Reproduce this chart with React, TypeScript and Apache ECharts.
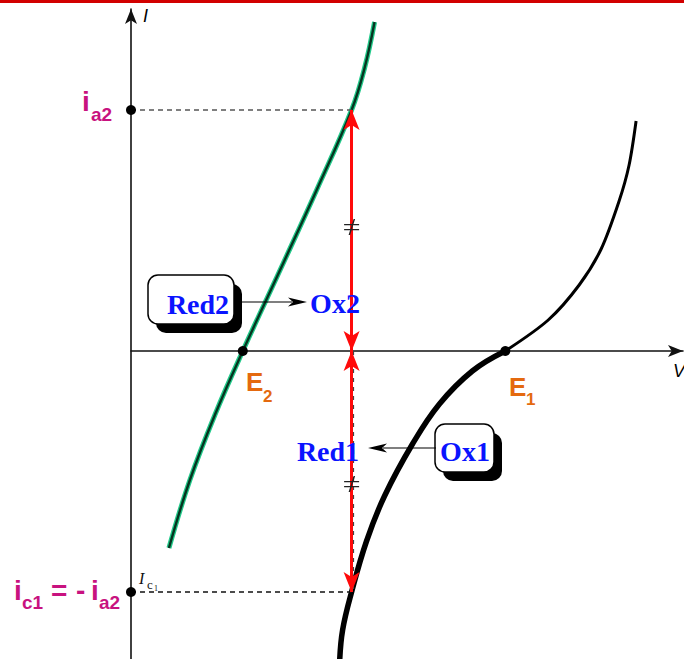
import React, { useEffect, useRef } from "react";
import * as echarts from "echarts";

// Axis ranges (potential E, current I, arbitrary units)
const potentialRange = [0, 55.3];
const currentRange = [-30.8, 34.2];

// Characteristic values
const E2 = 11.2;
const E1 = 37.5;
const Ecorr = 22.1;
const ia2 = 24.1;
const ic1 = -ia2;

// Red2 / Ox2 couple, I(E)
const couple2Curve: [number, number][] = [
  [3.8, -19.7],
  [5.9, -12.9],
  [8.4, -6.4],
  [11.2, 0],
  [15.4, 9.1],
  [18.6, 16.1],
  [22.1, 24.1],
  [23.4, 28.3],
  [24.4, 32.9],
];

// Red1 / Ox1 couple, cathodic branch (below E1)
const couple1Cathodic: [number, number][] = [
  [20.9, -31.1],
  [21.2, -27.9],
  [22.1, -24.1],
  [23.6, -19.0],
  [25.4, -14.5],
  [28.2, -9.3],
  [30.9, -5.3],
  [34.2, -2.0],
  [37.5, 0],
];

// Red1 / Ox1 couple, anodic branch (above E1)
const couple1Anodic: [number, number][] = [
  [37.5, 0],
  [41.8, 3.1],
  [44.9, 6.6],
  [47.1, 10.2],
  [48.9, 15.0],
  [49.9, 18.6],
  [50.6, 23.0],
];

// Positions of the "equal length" marks on the current arrows
const equalMarks = [12.4, -13.3];

const MAGENTA = "#c8127f";
const ORANGE = "#e4690f";
const BLUE = "#0a14ff";

type Txt = {
  x: number;
  y: number;
  text: string;
  font: string;
  fill: string;
  align?: string;
};

function txt(t: Txt) {
  return {
    type: "text",
    x: t.x,
    y: t.y,
    z: 100,
    style: {
      text: t.text,
      font: t.font,
      fill: t.fill,
      align: t.align || "left",
      verticalAlign: "middle",
      textAlign: t.align || "left",
      textVerticalAlign: "middle",
    },
  };
}

function shadowBox(x: number, y: number, w: number, h: number) {
  return [
    {
      type: "rect",
      z: 99,
      shape: { x: x + 8, y: y + 9, width: w, height: h, r: 10 },
      style: { fill: "#000" },
    },
    {
      type: "rect",
      z: 100,
      shape: { x, y, width: w, height: h, r: 10 },
      style: { fill: "#fff", stroke: "#000", lineWidth: 1.5 },
    },
  ];
}

function arrow(x1: number, x2: number, y: number) {
  const dir = x2 > x1 ? 1 : -1;
  const base = x2 - dir * 19;
  return [
    {
      type: "line",
      z: 100,
      shape: { x1, y1: y, x2: base + dir * 4, y2: y },
      style: { stroke: "#000", lineWidth: 1.2 },
    },
    {
      type: "polygon",
      z: 100,
      shape: {
        points: [
          [x2, y],
          [base, y - 4.5],
          [base + dir * 5, y],
          [base, y + 4.5],
        ],
      },
      style: { fill: "#000" },
    },
  ];
}

const bold = (size: number) => `bold ${size}px "Liberation Sans", Arial, sans-serif`;
const serifBold = (size: number) => `bold ${size}px "Liberation Serif", "Times New Roman", serif`;

export default function App() {
  const ref = useRef<HTMLDivElement>(null);

  useEffect(() => {
    if (!ref.current) return;
    const chart = echarts.init(ref.current, undefined, { renderer: "svg" });

    const hidden = { show: false };
    const axisLine = {
      show: true,
      onZero: true,
      symbol: ["none", "arrow"],
      symbolSize: [9, 15],
      lineStyle: { color: "#111", width: 1.6 },
    };

    const option: any = {
      animation: false,
      grid: { left: 131, right: 1, top: 9, bottom: 0, containLabel: false },
      xAxis: {
        type: "value",
        min: potentialRange[0],
        max: potentialRange[1],
        axisLine,
        axisTick: hidden,
        axisLabel: hidden,
        splitLine: hidden,
      },
      yAxis: {
        type: "value",
        min: currentRange[0],
        max: currentRange[1],
        axisLine,
        axisTick: hidden,
        axisLabel: hidden,
        splitLine: hidden,
      },
      series: [
        {
          type: "line",
          data: couple2Curve,
          smooth: 0.4,
          showSymbol: false,
          lineStyle: { color: "#22c98a", width: 5 },
          z: 3,
        },
        {
          type: "line",
          data: couple2Curve,
          smooth: 0.4,
          showSymbol: false,
          lineStyle: { color: "#063520", width: 2.4 },
          z: 4,
        },
        {
          type: "line",
          data: couple1Cathodic,
          smooth: 0.4,
          showSymbol: false,
          lineStyle: { color: "#000", width: 5.5 },
          z: 3,
        },
        {
          type: "line",
          data: couple1Anodic,
          smooth: 0.3,
          showSymbol: false,
          lineStyle: { color: "#000", width: 3 },
          z: 3,
        },
        // dashed guides
        {
          type: "line",
          data: [],
          z: 2,
          markLine: {
            silent: true,
            symbol: ["none", "none"],
            label: { show: false },
            data: [
              [
                { coord: [0, ia2], lineStyle: { color: "#555", width: 1.5, type: [5, 4] } },
                { coord: [Ecorr, ia2] },
              ],
              [
                { coord: [0, ic1], lineStyle: { color: "#111", width: 1.5, type: [5, 4] } },
                { coord: [Ecorr, ic1] },
              ],
              [
                { coord: [Ecorr + 0.2, 0], lineStyle: { color: "#444", width: 1.2, type: [4, 5] } },
                { coord: [Ecorr + 0.2, ic1] },
              ],
            ],
          },
        },
        // current arrows
        {
          type: "line",
          data: [],
          z: 5,
          markLine: {
            silent: true,
            symbol: ["arrow", "arrow"],
            symbolSize: [12, 20],
            label: { show: false },
            lineStyle: { color: "#ff0a0a", width: 3, type: "solid" },
            data: [
              [{ coord: [Ecorr, 0] }, { coord: [Ecorr, ia2] }],
              [{ coord: [Ecorr, 0] }, { coord: [Ecorr, ic1] }],
            ],
          },
        },
        // equal-length marks
        {
          type: "scatter",
          data: equalMarks.map((v) => [Ecorr, v]),
          symbol: "path://M0,5h15v1.3h-15z M0,10h15v1.3h-15z M9.5,0h1.5l-5,16h-1.5z",
          symbolSize: [15, 16],
          itemStyle: { color: "#222", opacity: 1 },
          z: 6,
        },
        // characteristic points
        {
          type: "scatter",
          data: [
            [0, ia2],
            [0, ic1],
            [E2, 0],
            [E1, 0],
          ],
          symbol: "circle",
          symbolSize: 10,
          itemStyle: { color: "#000", opacity: 1 },
          z: 7,
        },
      ],
      graphic: [
        {
          type: "rect",
          z: 100,
          shape: { x: 0, y: 0, width: 684, height: 3 },
          style: { fill: "#d20000" },
        },
        // axis names
        txt({ x: 143, y: 16, text: "I", font: 'italic 18px "Liberation Sans", sans-serif', fill: "#000" }),
        txt({ x: 673, y: 371, text: "V", font: 'italic 18px "Liberation Sans", sans-serif', fill: "#000" }),
        // current labels
        txt({ x: 82, y: 101, text: "i", font: bold(28), fill: MAGENTA }),
        txt({ x: 91, y: 114, text: "a2", font: bold(19), fill: MAGENTA }),
        txt({ x: 14, y: 590, text: "i", font: bold(28), fill: MAGENTA }),
        txt({ x: 22, y: 602, text: "c1", font: bold(19), fill: MAGENTA }),
        txt({ x: 51, y: 590, text: "=", font: bold(28), fill: MAGENTA }),
        txt({ x: 76, y: 590, text: "-", font: bold(28), fill: MAGENTA }),
        txt({ x: 91, y: 590, text: "i", font: bold(28), fill: MAGENTA }),
        txt({ x: 99, y: 602, text: "a2", font: bold(19), fill: MAGENTA }),
        txt({ x: 139, y: 578, text: "I", font: 'italic 16px "Liberation Serif", serif', fill: "#111" }),
        txt({ x: 147, y: 584, text: "c", font: '13px "Liberation Serif", serif', fill: "#111" }),
        txt({ x: 154, y: 588, text: "1", font: '8px "Liberation Serif", serif', fill: "#111" }),
        // potentials
        txt({ x: 246, y: 382, text: "E", font: bold(26), fill: ORANGE }),
        txt({ x: 263, y: 396, text: "2", font: bold(17), fill: ORANGE }),
        txt({ x: 509, y: 387, text: "E", font: bold(26), fill: ORANGE }),
        txt({ x: 526, y: 399, text: "1", font: bold(17), fill: ORANGE }),
        // Red2 -> Ox2
        ...shadowBox(148, 275, 86, 49),
        txt({ x: 198, y: 304, text: "Red2", font: serifBold(28), fill: BLUE, align: "center" }),
        ...arrow(236, 307, 302),
        txt({ x: 335, y: 303, text: "Ox2", font: serifBold(28), fill: BLUE, align: "center" }),
        // Ox1 -> Red1
        ...shadowBox(435, 424, 59, 48),
        txt({ x: 465, y: 451, text: "Ox1", font: serifBold(28), fill: BLUE, align: "center" }),
        ...arrow(436, 368, 448),
        txt({ x: 328, y: 451, text: "Red1", font: serifBold(28), fill: BLUE, align: "center" }),
      ],
    };

    chart.setOption(option);
    return () => chart.dispose();
  }, []);

  return (
    <div
      ref={ref}
      style={{ position: "absolute", left: 0, top: 0, width: 684, height: 659, background: "#fff" }}
    />
  );
}
